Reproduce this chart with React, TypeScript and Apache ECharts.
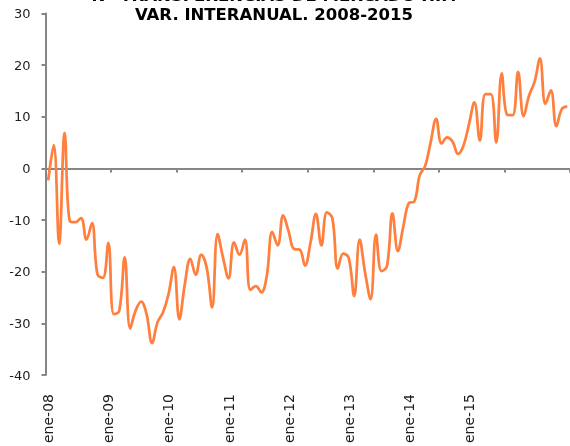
import React, { useEffect, useRef } from "react";
import * as echarts from "echarts";

const monthNames = ["ene", "feb", "mar", "abr", "may", "jun", "jul", "ago", "sep", "oct", "nov", "dic"];
const years = ["08", "09", "10", "11", "12", "13", "14", "15"];
const categories: string[] = [];
for (const y of years) for (const m of monthNames) categories.push(`${m}-${y}`);
const categoryCount = 96;

const tickLabels = ["ene-08", "ene-09", "ene-10", "ene-11", "ene-12", "ene-13", "ene-14", "ene-15"];

const values = [
  -2.3, 4.5, -14.6, 6.9, -10.3, -10.4, -9.6, -13.8, -10.6, -20.5, -21.2, -14.4,
  -28.2, -27.6, -17.2, -31.0, -27.5, -25.8, -28.2, -33.8, -29.8, -27.9, -24.4, -19.1,
  -29.2, -22.4, -17.5, -20.6, -16.7, -19.2, -26.9, -12.7, -17.3, -21.3, -14.3, -16.7,
  -13.8, -23.5, -22.8, -24.0, -20.8, -12.3, -14.9, -9.1, -12.2, -15.6, -15.7, -18.8,
  -14.4, -8.8, -14.9, -8.5, -9.6, -19.4, -16.5, -17.3, -24.7, -13.8, -20.2, -25.3,
  -12.8, -19.9, -18.9, -8.7, -16.0, -11.2, -6.7, -6.4, -1.3, 0.5, 5.1, 9.6,
  4.8, 6.0, 5.2, 2.8, 4.4, 8.5, 12.8, 5.4, 14.4, 14.4, 5.0, 18.4,
  10.4, 10.3, 18.7, 10.1, 14.1, 16.7, 21.3, 12.5, 15.1, 8.2, 11.5, 12.0,
];

const titleLines = ["Nº TRANSFERENCIAS DE MERCADO HIP.", "VAR. INTERANUAL. 2008-2015"];

const axisGray = "#868686";
const textColor = "#1e1e1e";
const lineColor = "#FF7F3F";

export default function App() {
  const ref = useRef<HTMLDivElement>(null);
  useEffect(() => {
    if (!ref.current) return;
    const chart = echarts.init(ref.current, undefined, { renderer: "svg" });
    const cats = categories.slice(0, categoryCount);
    chart.setOption({
      animation: false,
      grid: { left: 45.5, right: -10.2, top: 13.5, bottom: 68, containLabel: false },
      xAxis: [
        {
          type: "category",
          data: cats,
          boundaryGap: true,
          axisLine: { show: true, onZero: true, lineStyle: { color: axisGray, width: 2 } },
          axisTick: { show: true, interval: 11, length: 4, lineStyle: { color: axisGray, width: 2 } },
          axisLabel: { show: false },
          splitLine: { show: false },
        },
        {
          type: "category",
          data: cats,
          position: "bottom",
          boundaryGap: true,
          axisLine: { show: false, onZero: false },
          axisTick: { show: false },
          splitLine: { show: false },
          axisLabel: {
            interval: 10,
            rotate: 90,
            margin: 19,
            fontSize: 14,
            fontFamily: "DejaVu Sans",
            color: textColor,
            formatter: (_v: string, idx: number) =>
              idx % 11 === 0 && tickLabels[idx / 11] ? tickLabels[idx / 11] : "",
          },
        },
      ],
      yAxis: {
        type: "value",
        min: -40,
        max: 30,
        interval: 10,
        axisLine: { show: true, onZero: false, lineStyle: { color: axisGray, width: 2 } },
        axisTick: { show: true, length: 4, lineStyle: { color: axisGray, width: 2 } },
        axisLabel: { margin: 15, fontSize: 13, fontFamily: "DejaVu Sans", color: textColor },
        splitLine: { show: false },
      },
      series: [
        {
          type: "line",
          data: values,
          xAxisIndex: 0,
          smooth: 0.4,
          symbol: "none",
          showSymbol: false,
          lineStyle: { color: lineColor, width: 2.75 },
        },
      ],
      graphic: [
        {
          type: "text",
          x: 274,
          y: -5,
          z: 10,
          style: {
            text: titleLines[0],
            textAlign: "center",
            textVerticalAlign: "middle",
            font: 'bold 16.5px "DejaVu Sans"',
            fill: "#000",
          },
        },
        {
          type: "text",
          x: 274,
          y: 14.5,
          z: 10,
          style: {
            text: titleLines[1],
            textAlign: "center",
            textVerticalAlign: "middle",
            font: 'bold 16.5px "DejaVu Sans"',
            fill: "#000",
          },
        },
      ],
    });
    return () => chart.dispose();
  }, []);
  return <div ref={ref} style={{ position: "fixed", left: 0, top: 0, width: 570, height: 446 }} />;
}
